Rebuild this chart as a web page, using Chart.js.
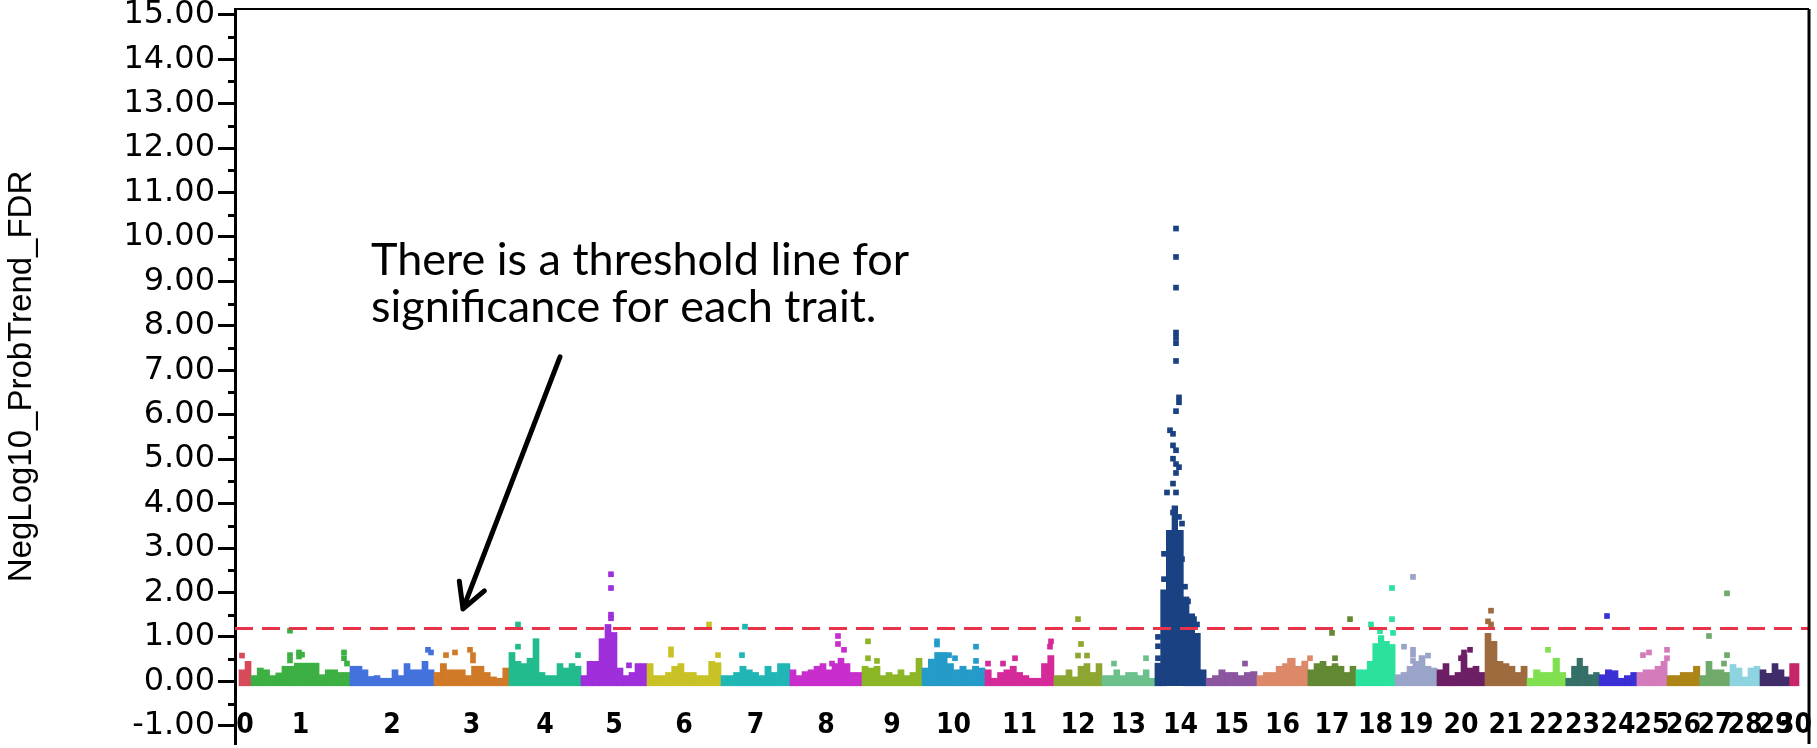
<!DOCTYPE html>
<html>
<head>
<meta charset="utf-8">
<script src="https://cdn.jsdelivr.net/npm/chart.js@4.4.0/dist/chart.umd.min.js"></script>
<style>
html, body { margin: 0; padding: 0; background: #fff; overflow: hidden; }
#wrap { width: 1817px; height: 748px; }
</style>
</head>
<body>
<div id="wrap"><canvas id="myChart"></canvas></div>
<script>
// chromosomes, width = number of markers along the genome axis
const chromLabels = ['0','1','2','3','4','5','6','7','8','9','10','11','12','13','14','15','16','17','18','19','20','21','22','23','24','25','26','27','28','29','30']
const chromWidth = [12,99,84,75,72,66,74,69,72,60,63,69,48,53,51,51,51,48,39,42,48,42,39,33,38,30,33,30,30,30,9]
const chromColors = ['#d64a5a','#3cb043','#4472dd','#d07a28','#22bb8e','#9e2fdb','#c9c227','#20b6b6','#c72ecc','#8db626',
                     '#249bc8','#d42a9a','#8da632','#6bc08c','#1a4282','#8b55a0','#dd8868','#628833','#2be29d','#9aa3c8',
                     '#6d1f66','#9e6b3f','#80e050','#347068','#3a2fd4','#d47bbb','#ad8416','#6faa6a','#8ed4e0','#412c6a','#c82468']

// top of the dense block of markers in each bin, per chromosome
const binTops = [
    [0.26,0.45],
    [0.13,0.30,0.26,0.13,0.19,0.34,0.34,0.41,0.41,0.41,0.41,0.15,0.26,0.26,0.20,0.20],
    [0.34,0.34,0.26,0.11,0.13,0.07,0.07,0.26,0.13,0.40,0.26,0.26,0.45,0.26],
    [0.20,0.40,0.26,0.26,0.26,0.13,0.34,0.34,0.20,0.10,0.07,0.30],
    [0.65,0.45,0.40,0.52,0.96,0.20,0.13,0.13,0.40,0.30,0.40,0.34],
    [0.13,0.45,0.45,0.96,1.28,1.10,0.30,0.13,0.20,0.40,0.40],
    [0.40,0.13,0.13,0.20,0.34,0.40,0.20,0.20,0.13,0.13,0.45,0.42],
    [0.13,0.13,0.20,0.34,0.26,0.20,0.13,0.34,0.20,0.40,0.40],
    [0.26,0.13,0.22,0.26,0.34,0.40,0.26,0.40,0.52,0.40,0.20,0.20],
    [0.34,0.30,0.34,0.13,0.20,0.15,0.26,0.13,0.20,0.52],
    [0.30,0.50,0.65,0.65,0.40,0.26,0.34,0.26,0.34,0.30],
    [0.26,0.07,0.20,0.26,0.34,0.20,0.13,0.07,0.07,0.40,0.58],
    [0.13,0.13,0.26,0.10,0.34,0.40,0.20,0.40],
    [0.13,0.13,0.26,0.13,0.20,0.20,0.13,0.26,0.07],
    [0.41,2.06,3.40,3.95,3.40,1.90,1.52,1.08,0.26],
    [0.07,0.13,0.26,0.20,0.20,0.13,0.20,0.22],
    [0.13,0.20,0.20,0.34,0.40,0.52,0.34,0.45],
    [0.26,0.40,0.45,0.34,0.40,0.34,0.20,0.34],
    [0.26,0.26,0.45,0.85,1.03,0.90,0.83],
    [0.15,0.20,0.34,0.45,0.58,0.34,0.30],
    [0.26,0.40,0.13,0.20,0.60,0.30,0.34,0.20],
    [1.08,0.90,0.45,0.40,0.34,0.20,0.34],
    [0.07,0.26,0.20,0.20,0.52,0.20],
    [0.07,0.34,0.52,0.34,0.15,0.20],
    [0.15,0.26,0.24,0.07,0.13,0.20],
    [0.20,0.26,0.26,0.34,0.45],
    [0.13,0.13,0.20,0.20,0.34],
    [0.13,0.45,0.26,0.26,0.20],
    [0.38,0.30,0.10,0.30,0.34],
    [0.26,0.18,0.40,0.26,0.10],
    [0.40,0.40]
]

// single markers standing above the block
const hitChr = [0, 1,1,1,1,1,1,1,1,1, 2,2, 3,3,3,3,3, 4,4,4, 5,5,5,5,5, 6,6,6,6, 7,7, 8,8,8,8, 9,9,9,
                10,10,10,10,10,10, 11,11,11,11,11, 12,12,12,12, 13,13,
                14,14,14,14,14,14,14,14,14,14,14,14,14,14,14,14,14,14,14,14,14,14,14,14,14,14,14,14,14,14,14,14,14,14,14,
                15, 16,16,16, 17,17,17, 18,18,18,18,18, 19,19,19,19,19,19, 20,20,20, 21,21,21, 22, 24, 25,25,25,25, 27,27,27,27]
const hitPos = [3, 51,51,51,60,60,63,105,105,108, 189,192, 207,216,231,234,234, 279,279,339, 372,372,372,372,390, 432,432,470,479, 506,503, 599,599,605,593, 629,629,638,
                698,698,710,716,737,737, 749,764,776,812,811, 839,842,839,848, 875,907,
                937,937,937,937,937,937,937,937,937,937,937,937,940,940,940,940,934,934,934,934,934,931,928,943,943,925,925,946,949,955,958,958,919,919,919,
                1006, 1051,1066,1071, 1111,1093,1096, 1132,1153,1153,1141,1154, 1174,1165,1174,1174,1189,1174, 1231,1225,1222, 1249,1252,1252, 1309, 1368, 1404,1410,1428,1428, 1488,1470,1488,1485]
const hitVal = [0.58, 1.14,0.59,0.47,0.65,0.56,0.60,0.65,0.52,0.40, 0.71,0.65, 0.59,0.65,0.71,0.59,0.47, 1.28,0.78,0.59, 2.41,2.10,1.50,1.42,0.36, 0.72,0.60,1.28,0.59, 1.23,0.59, 1.02,0.84,0.71,0.40, 0.90,0.52,0.46,
                0.90,0.83,0.59,0.52,0.78,0.46, 0.40,0.40,0.52,0.90,0.78, 1.40,0.84,0.58,0.58, 0.40,0.52,
                10.19,9.55,8.86,7.85,7.73,7.61,7.21,6.08,5.20,4.89,4.69,4.25,6.39,6.28,4.82,3.70,5.57,5.31,5.01,4.45,3.80,5.65,4.25,3.55,2.75,2.87,2.30,2.13,1.80,1.40,1.28,1.00,1.00,0.79,0.52,
                0.40, 0.46,0.40,0.52, 1.40,1.09,0.52, 1.28,2.10,1.40,1.13,1.09, 2.35,0.78,0.71,0.60,0.58,0.46, 0.71,0.65,0.52, 1.35,1.59,1.28, 0.71, 1.47, 0.59,0.65,0.71,0.52, 1.98,1.02,0.59,0.40]

const threshold = 1.19
const yTicks = [-1,0,1,2,3,4,5,6,7,8,9,10,11,12,13,14,15]
const noteLines = ['There is a threshold line for', 'significance for each trait.']

// cumulative start of each chromosome
let chromStart = []
let acc = 0
chromWidth.forEach(w => { chromStart.push(acc); acc += w })
const genomeEnd = acc

let binData = []
let binColors = []
binTops.forEach((tops, c) => {
    let step = chromWidth[c] / tops.length
    tops.forEach((v, i) => {
        binData.push({x: chromStart[c] + (i + 0.5) * step, y: [-0.1, v]})
        binColors.push(chromColors[c])
    })
})

let hitData = hitPos.map((p, i) => ({x: p, y: hitVal[i]}))
let hitColors = hitChr.map(c => chromColors[c])

const xMin = -4
const xMax = genomeEnd + 10

// minor ticks, frame, chromosome labels and the note with its arrow
const extras = {
    id: 'extras',
    afterDraw(chart) {
        const ctx = chart.ctx
        const xs = chart.scales.x
        const ys = chart.scales.y
        const area = chart.chartArea
        ctx.save()
        ctx.strokeStyle = '#000'
        ctx.lineWidth = 3
        yTicks.forEach(t => {
            let v = t + 0.5
            if (v > ys.max) return
            let py = Math.round(ys.getPixelForValue(v)) + 0.5
            ctx.beginPath()
            ctx.moveTo(area.left - 7, py)
            ctx.lineTo(area.left, py)
            ctx.stroke()
        })
        // frame top and right
        ctx.lineWidth = 2
        ctx.beginPath()
        ctx.moveTo(area.left, area.top)
        ctx.lineTo(area.right, area.top)
        ctx.stroke()
        ctx.lineWidth = 3
        ctx.beginPath()
        ctx.moveTo(area.right, area.top)
        ctx.lineTo(area.right, area.bottom)
        ctx.stroke()

        // chromosome labels sit on the -1 line
        ctx.fillStyle = '#000'
        ctx.font = 'bold 28px "Liberation Sans Narrow", "DejaVu Sans Condensed", sans-serif'
        ctx.textAlign = 'center'
        ctx.textBaseline = 'middle'
        let ly = ys.getPixelForValue(-1)
        chromLabels.forEach((lab, c) => {
            ctx.fillText(lab, xs.getPixelForValue(chromStart[c] + chromWidth[c] / 2), ly)
        })

        // note
        ctx.font = '45px Lato, "Open Sans", sans-serif'
        ctx.textAlign = 'left'
        ctx.textBaseline = 'alphabetic'
        ctx.fillText(noteLines[0], xs.getPixelForValue(132), ys.getPixelForValue(9.15))
        ctx.fillText(noteLines[1], xs.getPixelForValue(132), ys.getPixelForValue(8.08))

        // arrow
        let x0 = xs.getPixelForValue(321), y0 = ys.getPixelForValue(7.30)
        let x1 = xs.getPixelForValue(224), y1 = ys.getPixelForValue(1.63)
        let ang = Math.atan2(y1 - y0, x1 - x0)
        ctx.lineWidth = 5
        ctx.lineCap = 'round'
        ctx.lineJoin = 'round'
        ctx.beginPath()
        ctx.moveTo(x0, y0)
        ctx.lineTo(x1, y1)
        ctx.moveTo(x1 - 28 * Math.cos(ang - 0.5), y1 - 28 * Math.sin(ang - 0.5))
        ctx.lineTo(x1, y1)
        ctx.lineTo(x1 - 28 * Math.cos(ang + 0.5), y1 - 28 * Math.sin(ang + 0.5))
        ctx.stroke()
        ctx.restore()
    }
}

let ctx = document.getElementById('myChart').getContext('2d')
let myChart = new Chart(ctx, {
    type: 'bar',
    data: {
        datasets: [{
            type: 'line',
            label: 'threshold',
            data: [{x: xMin, y: threshold}, {x: xMax, y: threshold}],
            borderColor: '#e8334a',
            borderWidth: 3,
            borderDash: [18, 9],
            pointRadius: 0,
            order: 0
        }, {
            type: 'scatter',
            label: 'markers',
            data: hitData,
            pointStyle: 'rect',
            pointRadius: 4,
            backgroundColor: hitColors,
            borderWidth: 0,
            order: 1
        }, {
            type: 'bar',
            label: 'block',
            data: binData,
            backgroundColor: binColors,
            borderWidth: 0,
            barThickness: 'flex',
            categoryPercentage: 1,
            barPercentage: 1,
            order: 2
        }]
    },
    options: {
        responsive: true,
        maintainAspectRatio: false,
        animation: false,
        layout: { padding: { top: 9, right: 8, left: 0, bottom: 0 } },
        plugins: {
            legend: { display: false },
            tooltip: { enabled: false }
        },
        scales: {
            x: {
                type: 'linear',
                min: xMin,
                max: xMax,
                offset: false,
                display: false
            },
            y: {
                min: -1.41,
                max: 15.13,
                afterBuildTicks: s => { s.ticks = yTicks.map(v => ({value: v})) },
                afterFit: s => {
                    s.width = 235
                    s.paddingTop = 0
                    s.paddingBottom = 0
                },
                ticks: {
                    autoSkip: false,
                    callback: v => Number(v).toFixed(2),
                    color: '#000',
                    padding: 3,
                    font: { family: 'DejaVu Sans', size: 32 }
                },
                grid: {
                    drawOnChartArea: false,
                    drawTicks: true,
                    tickLength: 17,
                    tickWidth: 3,
                    tickColor: '#000'
                },
                border: { display: true, width: 3, color: '#000' },
                title: {
                    display: true,
                    text: 'NegLog10_ProbTrend_FDR',
                    color: '#000',
                    font: { family: 'Liberation Sans', size: 33 },
                    padding: { top: 2, bottom: 0 }
                }
            }
        }
    },
    plugins: [extras]
})
</script>
</body>
</html>
